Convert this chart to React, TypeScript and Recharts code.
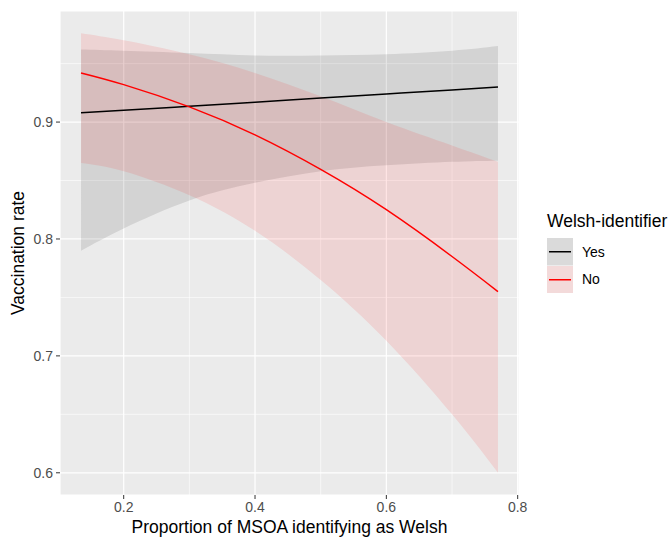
import React from 'react';
import {
  ComposedChart,
  Area,
  Line,
  XAxis,
  YAxis,
  CartesianGrid,
  Legend,
} from 'recharts';

const xValues = [0.135, 0.2, 0.3, 0.4, 0.5, 0.6, 0.7, 0.77];

const yesFit = [0.908, 0.91, 0.9135, 0.917, 0.9205, 0.924, 0.9275, 0.93];
const yesLower = [0.79, 0.809, 0.833, 0.848, 0.858, 0.863, 0.866, 0.867];
const yesUpper = [0.962, 0.961, 0.959, 0.957, 0.957, 0.958, 0.961, 0.965];

const noFit = [0.942, 0.932, 0.913, 0.889, 0.8595, 0.825, 0.785, 0.755];
const noLower = [0.865, 0.858, 0.8375, 0.807, 0.765, 0.713, 0.65, 0.6];
const noUpper = [0.976, 0.97, 0.958, 0.942, 0.922, 0.9, 0.88, 0.866];

const xTicks = [0.2, 0.4, 0.6, 0.8];
const yTicks = [0.6, 0.7, 0.8, 0.9];
const xMinor = [0.3, 0.5, 0.7];
const yMinor = [0.65, 0.75, 0.85, 0.95];

const groups = [
  { label: 'Yes', color: '#000000', key: '#DADADA' },
  { label: 'No', color: '#FF0000', key: '#F3DADA' },
];

const data = xValues.map((x, i) => ({
  x,
  yes: yesFit[i],
  yesBand: [yesLower[i], yesUpper[i]],
  no: noFit[i],
  noBand: [noLower[i], noUpper[i]],
}));

const FONT = '"Liberation Sans", Arial, sans-serif';
const tickStyle = { fill: '#4D4D4D', fontSize: 14, fontFamily: FONT };

const LegendBox = () => (
  <div style={{ fontFamily: FONT, color: '#000' }}>
    <div style={{ fontSize: 17.5, lineHeight: '20px', marginBottom: 7, whiteSpace: 'nowrap' }}>
      Welsh-identifier
    </div>
    {groups.map((g) => (
      <div key={g.label} style={{ display: 'flex', alignItems: 'center', height: 27.5 }}>
        <svg width={26} height={27.5} style={{ display: 'block' }}>
          <rect x={0} y={0} width={26} height={27.5} fill={g.key} />
          <line x1={2} x2={24} y1={13.75} y2={13.75} stroke={g.color} strokeWidth={1.5} />
        </svg>
        <span style={{ fontSize: 14, marginLeft: 9 }}>{g.label}</span>
      </div>
    ))}
  </div>
);

export default function App() {
  return (
    <div style={{ position: 'absolute', left: 0, top: 0, width: 670, height: 538, background: '#fff' }}>
      <ComposedChart
        width={670}
        height={538}
        data={data}
        margin={{ top: 11, right: 151, left: 0, bottom: 0 }}
      >
        <CartesianGrid
          fill="#EBEBEB"
          stroke="#FFFFFF"
          strokeWidth={0.6}
          horizontalValues={yMinor}
          verticalValues={xMinor}
        />
        <CartesianGrid stroke="#FFFFFF" strokeWidth={1.2} />
        <XAxis
          dataKey="x"
          type="number"
          domain={[0.103, 0.802]}
          ticks={xTicks}
          allowDataOverflow
          height={43}
          axisLine={false}
          tickSize={4}
          tickMargin={3}
          tickLine={{ stroke: '#333333' }}
          tick={tickStyle}
          tickFormatter={(v) => v.toFixed(1)}
          label={{
            value: 'Proportion of MSOA identifying as Welsh',
            position: 'insideBottom',
            offset: 5,
            style: { fill: '#000', fontSize: 17.5, fontFamily: FONT },
          }}
        />
        <YAxis
          type="number"
          domain={[0.581, 0.995]}
          ticks={yTicks}
          allowDataOverflow
          width={60}
          axisLine={false}
          tickSize={4}
          tickMargin={3}
          tickLine={{ stroke: '#333333' }}
          tick={tickStyle}
          tickFormatter={(v) => v.toFixed(1)}
          label={{
            value: 'Vaccination rate',
            angle: -90,
            position: 'insideLeft',
            offset: 18,
            style: { fill: '#000', fontSize: 17.5, fontFamily: FONT, textAnchor: 'middle' },
          }}
        />
        <Legend
          layout="vertical"
          align="center"
          verticalAlign="middle"
          wrapperStyle={{ left: 547, top: 211, width: 125 }}
          content={() => <LegendBox />}
        />
        <Area
          dataKey="yesBand"
          type="natural"
          stroke="none"
          fill="#000000"
          fillOpacity={0.1}
          isAnimationActive={false}
        />
        <Area
          dataKey="noBand"
          type="natural"
          stroke="none"
          fill="#FF0000"
          fillOpacity={0.1}
          isAnimationActive={false}
        />
        <Line
          dataKey="yes"
          type="natural"
          stroke="#000000"
          strokeWidth={1.5}
          dot={false}
          activeDot={false}
          isAnimationActive={false}
        />
        <Line
          dataKey="no"
          type="natural"
          stroke="#FF0000"
          strokeWidth={1.5}
          dot={false}
          activeDot={false}
          isAnimationActive={false}
        />
      </ComposedChart>
    </div>
  );
}
